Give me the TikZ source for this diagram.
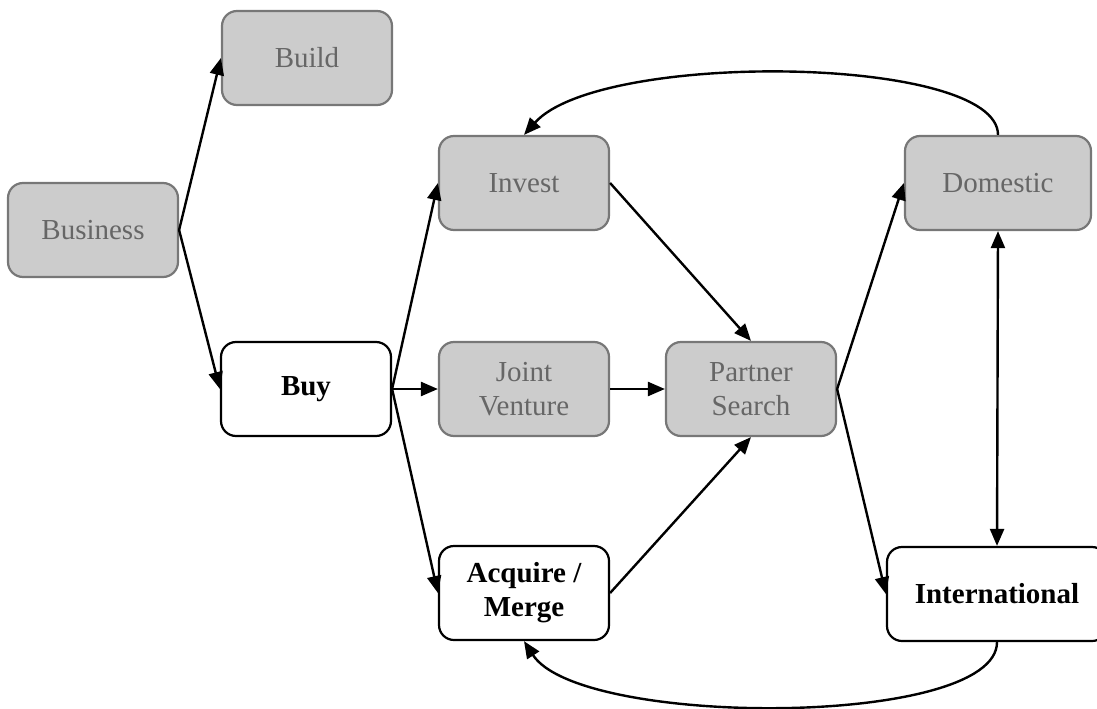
\documentclass[tikz,border=0pt]{standalone}
\usepackage{fontspec}
\setmainfont{Liberation Serif}
\usetikzlibrary{arrows.meta}
\definecolor{boxgray}{HTML}{CCCCCC}
\definecolor{edgegray}{HTML}{777777}
\definecolor{textgray}{HTML}{666666}
\tikzset{
  base/.style={rounded corners=15pt, minimum width=170pt, minimum height=94pt,
    align=center, font=\fontsize{29}{34}\selectfont, inner sep=2pt},
  graybox/.style={base, fill=boxgray, draw=edgegray, line width=2.2pt, text=textgray},
  whitebox/.style={base, fill=white, draw=black, line width=2.2pt, text=black,
    font=\fontsize{29}{34}\selectfont\bfseries},
  tip/.tip={Triangle[length=17pt,width=14pt]},
  link/.style={line width=2.4pt, -tip},
  bilink/.style={line width=2.4pt, tip-tip},
}
\begin{document}
\begin{tikzpicture}[x=1pt, y=-1pt]
\useasboundingbox (0,0) rectangle (1097,709);

\node[graybox] (business) at (93,230) {Business};
\node[graybox] (build) at (307,58) {Build};
\node[whitebox] (buy) at (306,389) {Buy};
\node[graybox] (invest) at (524,183) {Invest};
\node[graybox] (jv) at (524,389) {Joint\\Venture};
\node[whitebox] (acq) at (524,593) {Acquire /\\Merge};
\node[graybox] (partner) at (751,389) {Partner\\Search};
\node[graybox, minimum width=186pt] (dom) at (998,183) {Domestic};
\node[whitebox, minimum width=220pt] (intl) at (997,594) {International};

\draw[link] (business.east) -- (build.west);
\draw[link] (business.east) -- (buy.west);
\draw[link] (buy.east) -- (invest.west);
\draw[link] (buy.east) -- (jv.west);
\draw[link] (buy.east) -- (acq.west);
\draw[link] (invest.east) -- (partner.north);
\draw[link] (jv.east) -- (partner.west);
\draw[link] (acq.east) -- (partner.south);
\draw[link] (partner.east) -- (dom.west);
\draw[link] (partner.east) -- (intl.west);
\draw[bilink] (dom.south) -- (intl.north);
\draw[link] (dom.north) .. controls (998,55) and (600,50) .. (invest.north);
\draw[link] (intl.south) .. controls (997,728) and (580,728) .. (acq.south);
\end{tikzpicture}
\end{document}
